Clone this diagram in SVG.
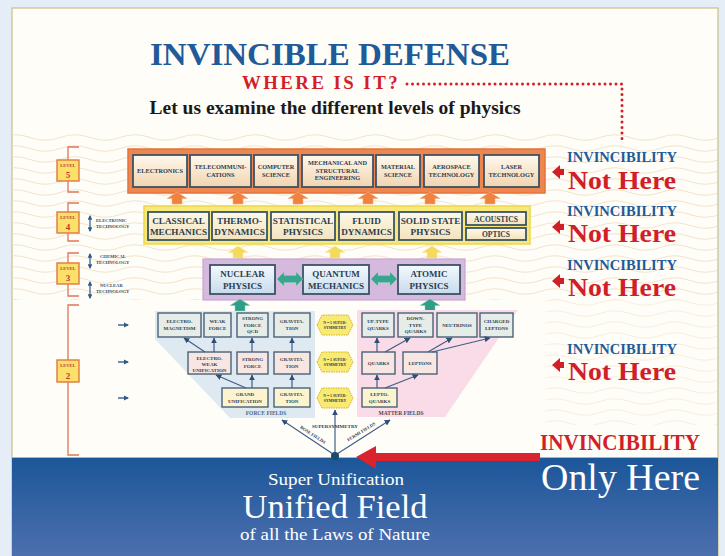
<svg xmlns="http://www.w3.org/2000/svg" width="725" height="556" viewBox="0 0 725 556">
<defs>
<style>
.t{font-family:"Liberation Serif","Times New Roman",serif;font-weight:bold;fill:#2b3d4f;text-anchor:middle}
.bx{stroke:#3b5366;stroke-width:1.8}
.b2{stroke:#4a6278;stroke-width:1.4}
.con{stroke:#3f5f86;stroke-width:1.2;fill:none;marker-end:url(#ah)}
.inv{font-family:"Liberation Serif","Times New Roman",serif;font-weight:bold;fill:#1f5a99;font-size:15px}
.nh{font-family:"Liberation Serif","Times New Roman",serif;font-weight:bold;fill:#d11f2a;font-size:26px}
.lvl{fill:#fbe06a;stroke:#e07840;stroke-width:1.4}
.lt{font-family:"Liberation Serif",serif;font-weight:bold;fill:#c0392b;text-anchor:middle}
.br{fill:none;stroke:#e07458;stroke-width:1.3}
.sm{font-family:"Liberation Serif",serif;font-weight:bold;fill:#3a4a5a;font-size:4.6px}
.n1{fill:#f8ea72;stroke:#cfae2a;stroke-width:1;stroke-dasharray:1.5 1}
</style>
<pattern id="wav" width="60" height="11" patternUnits="userSpaceOnUse">
<path d="M0 5.5 Q15 0 30 5.5 T60 5.5" fill="none" stroke="#f0e0c8" stroke-width="0.9"/>
</pattern>
<linearGradient id="g5" x1="0" y1="0" x2="0" y2="1"><stop offset="0" stop-color="#fff9ee"/><stop offset="1" stop-color="#f1d4ae"/></linearGradient>
<linearGradient id="g4" x1="0" y1="0" x2="0" y2="1"><stop offset="0" stop-color="#fdf8e8"/><stop offset="1" stop-color="#f3e3bd"/></linearGradient>
<linearGradient id="g3" x1="0" y1="0" x2="0" y2="1"><stop offset="0" stop-color="#f4f9fe"/><stop offset="1" stop-color="#c8dbec"/></linearGradient>
<linearGradient id="gb" x1="0" y1="0" x2="0" y2="1"><stop offset="0" stop-color="#1b5699"/><stop offset="1" stop-color="#4d6fae"/></linearGradient>
<path id="up" d="M0,0 L10,6.5 L5,6.5 L5,12 L-5,12 L-5,6.5 L-10,6.5 Z"/>
<path id="dbl" d="M0,0 L7,-7 L7,-3.5 L19,-3.5 L19,-7 L26,0 L19,7 L19,3.5 L7,3.5 L7,7 Z"/>
<path id="hex" d="M-18,0 L-13,-10 L13,-10 L18,0 L13,10 L-13,10 Z"/>
<path id="rl" d="M0,0 L8,-7 L8,-3 L12,-3 L12,3 L8,3 L8,7 Z"/>
<marker id="ah" viewBox="0 0 10 10" refX="9" refY="5" markerWidth="5" markerHeight="5" orient="auto"><path d="M0,0 L10,5 L0,10 Z" fill="#2f4f78"/></marker>
<marker id="va" viewBox="0 0 10 10" refX="8" refY="5" markerWidth="4" markerHeight="4" orient="auto-start-reverse"><path d="M0,0 L10,5 L0,10 Z" fill="#2f5a8a"/></marker>
</defs>

<rect x="0" y="0" width="725" height="556" fill="#e5edf7"/>
<rect x="12" y="8" width="706" height="560" fill="#fffdf7" stroke="#c9c08a" stroke-width="1.2"/>
<rect x="13" y="132" width="704" height="168" fill="url(#wav)"/>
<rect x="545" y="300" width="172" height="125" fill="url(#wav)" opacity="0.6"/>

<g id="title">
<text x="330" y="65" font-family="Liberation Serif,serif" font-weight="bold" font-size="32" fill="#1f5a99" text-anchor="middle" textLength="360" lengthAdjust="spacingAndGlyphs">INVINCIBLE DEFENSE</text>
<text x="242" y="89" font-family="Liberation Serif,serif" font-size="18.5" fill="#d11f2a" letter-spacing="2.4" font-weight="bold" textLength="158" lengthAdjust="spacingAndGlyphs">WHERE IS IT?</text>
<text x="335" y="114" font-family="Liberation Serif,serif" font-weight="bold" font-size="19" fill="#1a1a1a" text-anchor="middle" textLength="371" lengthAdjust="spacingAndGlyphs">Let us examine the different levels of physics</text>
<path d="M407,84 H622 V140" fill="none" stroke="#d11f2a" stroke-width="3" stroke-linecap="round" stroke-dasharray="0 5.5"/>
</g>

<g id="levels">
<path class="br" d="M79,147 H68 V192 H79"/>
<rect class="lvl" x="57" y="160" width="22" height="21"/>
<text class="lt" x="68" y="167" font-size="4.5">LEVEL</text><text class="lt" x="68" y="178" font-size="9">5</text>
<path class="br" d="M79,203 H68 V241 H79"/>
<rect class="lvl" x="57" y="212" width="22" height="21"/>
<text class="lt" x="68" y="219" font-size="4.5">LEVEL</text><text class="lt" x="68" y="230" font-size="9">4</text>
<path class="br" d="M79,253 H68 V296 H79"/>
<rect class="lvl" x="57" y="263" width="22" height="21"/>
<text class="lt" x="68" y="270" font-size="4.5">LEVEL</text><text class="lt" x="68" y="281" font-size="9">3</text>
<path class="br" d="M79,305 H68 V455 H79"/>
<rect class="lvl" x="57" y="360" width="22" height="22"/>
<text class="lt" x="68" y="367" font-size="4.5">LEVEL</text><text class="lt" x="68" y="379" font-size="9">2</text>
</g>

<g id="tech">
<line x1="90" y1="216" x2="90" y2="231" stroke="#2f5a8a" stroke-width="1.2" marker-start="url(#va)" marker-end="url(#va)"/>
<text class="sm" x="96" y="222">ELECTRONIC</text><text class="sm" x="96" y="228">TECHNOLOGY</text>
<line x1="90" y1="254" x2="90" y2="268" stroke="#2f5a8a" stroke-width="1.2" marker-start="url(#va)" marker-end="url(#va)"/>
<text class="sm" x="100" y="258">CHEMICAL</text><text class="sm" x="96" y="264">TECHNOLOGY</text>
<line x1="90" y1="282" x2="90" y2="298" stroke="#2f5a8a" stroke-width="1.2" marker-start="url(#va)" marker-end="url(#va)"/>
<text class="sm" x="100" y="287">NUCLEAR</text><text class="sm" x="96" y="293">TECHNOLOGY</text>
<line x1="118" y1="325" x2="128" y2="325" stroke="#2f4f78" stroke-width="1.3" marker-end="url(#va)"/>
<line x1="118" y1="362" x2="128" y2="362" stroke="#2f4f78" stroke-width="1.3" marker-end="url(#va)"/>
<line x1="118" y1="398" x2="128" y2="398" stroke="#2f4f78" stroke-width="1.3" marker-end="url(#va)"/>
</g>

<g id="level5">
<rect x="128" y="149" width="417" height="44" fill="#ee8650" stroke="#e4733a" stroke-width="1.5"/>
<g fill="url(#g5)" class="bx">
<rect x="133" y="155" width="54" height="32"/><rect x="190" y="155" width="61" height="32"/><rect x="254" y="155" width="44" height="32"/><rect x="302" y="155" width="71" height="32"/><rect x="376" y="155" width="44" height="32"/><rect x="424" y="155" width="55" height="32"/><rect x="484" y="155" width="55" height="32"/>
</g>
<g class="t" font-size="6.3">
<text x="160" y="173">ELECTRONICS</text>
<text x="220.5" y="169">TELECOMMUNI-</text><text x="220.5" y="177">CATIONS</text>
<text x="276" y="169">COMPUTER</text><text x="276" y="177">SCIENCE</text>
<text x="337.5" y="165">MECHANICAL AND</text><text x="337.5" y="172.5">STRUCTURAL</text><text x="337.5" y="180">ENGINEERING</text>
<text x="398" y="169">MATERIAL</text><text x="398" y="177">SCIENCE</text>
<text x="451.5" y="169">AEROSPACE</text><text x="451.5" y="177">TECHNOLOGY</text>
<text x="511.5" y="169">LASER</text><text x="511.5" y="177">TECHNOLOGY</text>
</g>
</g>

<g id="arrows54" fill="#f0823f" stroke="#f7b07a" stroke-width="0.6">
<use href="#up" x="177" y="192"/><use href="#up" x="238" y="192"/><use href="#up" x="298" y="192"/><use href="#up" x="368" y="192"/><use href="#up" x="430" y="192"/><use href="#up" x="490" y="192"/>
</g>

<g id="level4">
<rect x="144" y="206" width="386" height="38" fill="#f6e97a" stroke="#eed64a" stroke-width="1.5"/>
<g fill="url(#g4)" class="bx">
<rect x="148" y="212" width="61" height="28"/><rect x="212" y="212" width="55" height="28"/><rect x="271" y="212" width="64" height="28"/><rect x="339" y="212" width="55" height="28"/><rect x="399" y="212" width="63" height="28"/><rect x="466" y="212" width="60" height="13"/><rect x="466" y="228" width="60" height="12"/>
</g>
<g class="t" font-size="9.2">
<text x="178.5" y="224">CLASSICAL</text><text x="178.5" y="235">MECHANICS</text>
<text x="239.5" y="224">THERMO-</text><text x="239.5" y="235">DYNAMICS</text>
<text x="303" y="224">STATISTICAL</text><text x="303" y="235">PHYSICS</text>
<text x="366.5" y="224">FLUID</text><text x="366.5" y="235">DYNAMICS</text>
<text x="430.5" y="224">SOLID STATE</text><text x="430.5" y="235">PHYSICS</text>
<text x="496" y="221.5" font-size="7.5">ACOUSTICS</text><text x="496" y="237" font-size="7.5">OPTICS</text>
</g>
</g>

<g id="arrows43" fill="#f5d95a" stroke="#fbe9a0" stroke-width="0.6">
<use href="#up" x="238" y="246"/><use href="#up" x="335" y="246"/><use href="#up" x="432" y="246"/>
</g>

<g id="level3">
<rect x="203" y="259" width="262" height="41" fill="#d6badd" stroke="#c8a4d0" stroke-width="1.2"/>
<g fill="url(#g3)" class="bx">
<rect x="210" y="265" width="65" height="29"/><rect x="303" y="265" width="66" height="29"/><rect x="398" y="265" width="62" height="29"/>
</g>
<g class="t" font-size="9">
<text x="242.5" y="277">NUCLEAR</text><text x="242.5" y="289">PHYSICS</text>
<text x="336" y="277">QUANTUM</text><text x="336" y="289">MECHANICS</text>
<text x="429" y="277">ATOMIC</text><text x="429" y="289">PHYSICS</text>
</g>
<g fill="#3aa58e" stroke="#7fd0bd" stroke-width="0.5">
<use href="#dbl" x="277" y="279"/><use href="#dbl" x="371" y="279"/>
</g>
</g>

<g id="arrows32" fill="#2f9e86" stroke="#7fd0bd" stroke-width="0.5">
<use href="#up" x="240" y="299"/><use href="#up" x="430" y="299"/>
</g>

<g id="level2">
<path d="M155,311 H315 V418 H230 L155,339 Z" fill="#dfe9f2"/>
<path d="M357,310 H518 L445,417 H357 Z" fill="#f9dce7"/>
<g class="b2">
<rect x="158" y="313" width="43" height="24" fill="#e6ece8"/><rect x="204" y="313" width="27" height="24" fill="#e6ece8"/><rect x="237" y="313" width="31" height="24" fill="#e6ece8"/><rect x="274" y="313" width="36" height="24" fill="#e6ece8"/>
<rect x="188" y="352" width="43" height="22" fill="#f8e6e2"/><rect x="237" y="352" width="31" height="22" fill="#f8e6e2"/><rect x="274" y="352" width="36" height="22" fill="#f8e6e2"/>
<rect x="222" y="388" width="46" height="19" fill="#fbf4cf"/><rect x="274" y="388" width="36" height="19" fill="#fbf4cf"/>
<rect x="362" y="313" width="32" height="24" fill="#e6ece8"/><rect x="398" y="313" width="35" height="24" fill="#e6ece8"/><rect x="437" y="313" width="40" height="24" fill="#e6ece8"/><rect x="480" y="313" width="33" height="24" fill="#e6ece8"/>
<rect x="362" y="352" width="33" height="22" fill="#f8e6e2"/><rect x="403" y="352" width="34" height="22" fill="#f8e6e2"/>
<rect x="362" y="388" width="35" height="19" fill="#fbf4cf"/>
</g>
<g class="t" font-size="5">
<text x="179.5" y="323">ELECTRO-</text><text x="179.5" y="330">MAGNETISM</text>
<text x="217.5" y="323">WEAK</text><text x="217.5" y="330">FORCE</text>
<text x="252.5" y="320">STRONG</text><text x="252.5" y="326.5">FORCE</text><text x="252.5" y="333">QCD</text>
<text x="292" y="323">GRAVITA-</text><text x="292" y="330">TION</text>
<text x="209.5" y="360">ELECTRO-</text><text x="209.5" y="366">WEAK</text><text x="209.5" y="372">UNIFICATION</text>
<text x="252.5" y="361">STRONG</text><text x="252.5" y="368">FORCE</text>
<text x="292" y="361">GRAVITA-</text><text x="292" y="368">TION</text>
<text x="245" y="396">GRAND</text><text x="245" y="403">UNIFICATION</text>
<text x="292" y="396">GRAVITA-</text><text x="292" y="403">TION</text>
<text x="378" y="323">UP-TYPE</text><text x="378" y="330">QUARKS</text>
<text x="415.5" y="320">DOWN-</text><text x="415.5" y="326.5">TYPE</text><text x="415.5" y="333">QUARKS</text>
<text x="457" y="327">NEUTRINOS</text>
<text x="496.5" y="323">CHARGED</text><text x="496.5" y="330">LEPTONS</text>
<text x="378.5" y="365">QUARKS</text>
<text x="420" y="365">LEPTONS</text>
<text x="379.5" y="396">LEPTO-</text><text x="379.5" y="403">QUARKS</text>
</g>
<text x="266" y="415" font-family="Liberation Serif,serif" font-weight="bold" font-size="5.5" fill="#4a6a8a" text-anchor="middle">FORCE FIELDS</text>
<text x="401" y="415" font-family="Liberation Serif,serif" font-weight="bold" font-size="5.5" fill="#4a4a5a" text-anchor="middle">MATTER FIELDS</text>
<g id="susy">
<use href="#hex" x="335" y="325" class="n1"/><use href="#hex" x="335" y="362" class="n1"/><use href="#hex" x="335" y="398" class="n1"/>
<g class="t" font-size="3.8" fill="#5a4a10">
<text x="335" y="324">N = 1 SUPER-</text><text x="335" y="329">SYMMETRY</text>
<text x="335" y="361">N = 1 SUPER-</text><text x="335" y="366">SYMMETRY</text>
<text x="335" y="397">N = 1 SUPER-</text><text x="335" y="402">SYMMETRY</text>
</g>
</g>
</g>

<g id="connectors">
<line class="con" x1="205" y1="352" x2="184" y2="338"/>
<line class="con" x1="214" y1="352" x2="214" y2="338"/>
<line class="con" x1="252" y1="352" x2="252" y2="338"/>
<line class="con" x1="292" y1="352" x2="292" y2="338"/>
<line class="con" x1="252" y1="388" x2="252" y2="375"/>
<line class="con" x1="246" y1="388" x2="216" y2="375"/>
<line class="con" x1="292" y1="388" x2="292" y2="375"/>
<line class="con" x1="377" y1="388" x2="377" y2="375"/>
<line class="con" x1="385" y1="388" x2="418" y2="375"/>
<line class="con" x1="377" y1="352" x2="377" y2="338"/>
<line class="con" x1="385" y1="352" x2="410" y2="338"/>
<line class="con" x1="428" y1="352" x2="452" y2="338"/>
<line class="con" x1="432" y1="352" x2="490" y2="338"/>
<line class="con" x1="335" y1="453" x2="335" y2="410"/>
<line class="con" x1="333" y1="454" x2="282" y2="420"/>
<line class="con" x1="337" y1="454" x2="390" y2="420"/>
<text x="335" y="428" font-family="Liberation Serif,serif" font-weight="bold" font-size="5" fill="#2b3d4f" text-anchor="middle">SUPERSYMMETRY</text>
<text transform="translate(312,436) rotate(33)" font-family="Liberation Serif,serif" font-weight="bold" font-size="4.5" fill="#2b3d4f" text-anchor="middle">BOSE FIELDS</text>
<text transform="translate(362,433) rotate(-32)" font-family="Liberation Serif,serif" font-weight="bold" font-size="4.5" fill="#2b3d4f" text-anchor="middle">FERMI FIELDS</text>
</g>

<g id="notHere">
<use href="#rl" x="552" y="172" fill="#d11f2a"/>
<text class="inv" x="567" y="162" textLength="110" lengthAdjust="spacingAndGlyphs">INVINCIBILITY</text>
<text class="nh" x="568" y="189" textLength="108" lengthAdjust="spacingAndGlyphs">Not Here</text>
<use href="#rl" x="552" y="227" fill="#d11f2a"/>
<text class="inv" x="567" y="216" textLength="110" lengthAdjust="spacingAndGlyphs">INVINCIBILITY</text>
<text class="nh" x="568" y="242" textLength="108" lengthAdjust="spacingAndGlyphs">Not Here</text>
<use href="#rl" x="552" y="281" fill="#d11f2a"/>
<text class="inv" x="567" y="270" textLength="110" lengthAdjust="spacingAndGlyphs">INVINCIBILITY</text>
<text class="nh" x="568" y="296" textLength="108" lengthAdjust="spacingAndGlyphs">Not Here</text>
<use href="#rl" x="552" y="365" fill="#d11f2a"/>
<text class="inv" x="567" y="354" textLength="110" lengthAdjust="spacingAndGlyphs">INVINCIBILITY</text>
<text class="nh" x="568" y="380" textLength="108" lengthAdjust="spacingAndGlyphs">Not Here</text>
</g>

<g id="unified">
<rect x="12" y="457" width="706" height="99" fill="url(#gb)"/>
<line x1="12" y1="457.5" x2="718" y2="457.5" stroke="#9cb6d6" stroke-width="1"/>
<circle cx="335" cy="456" r="4" fill="#1b4a6e"/>
<path d="M356,457 L376,446 L376,453 L540,453 L540,461 L376,461 L376,469 Z" fill="#d9232e"/>
<text x="540" y="450" font-family="Liberation Serif,serif" font-weight="bold" font-size="23" fill="#d11f2a" textLength="160" lengthAdjust="spacingAndGlyphs">INVINCIBILITY</text>
<text x="541" y="490" font-family="Liberation Serif,serif" font-size="37" fill="#ffffff" textLength="159" lengthAdjust="spacingAndGlyphs">Only Here</text>
<text x="336" y="485" font-family="Liberation Serif,serif" font-size="17" fill="#ffffff" text-anchor="middle" textLength="136" lengthAdjust="spacingAndGlyphs">Super Unification</text>
<text x="335" y="518" font-family="Liberation Serif,serif" font-size="34" fill="#ffffff" text-anchor="middle" textLength="185" lengthAdjust="spacingAndGlyphs">Unified Field</text>
<text x="335" y="540" font-family="Liberation Serif,serif" font-size="16" fill="#ffffff" text-anchor="middle" textLength="190" lengthAdjust="spacingAndGlyphs">of all the Laws of Nature</text>
</g>
</svg>
